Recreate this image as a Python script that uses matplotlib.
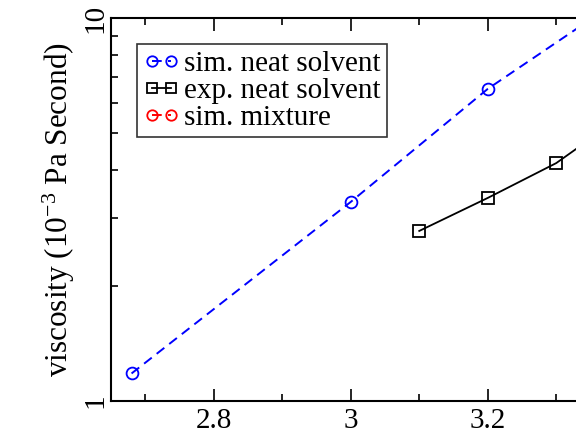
import numpy as np
import matplotlib
matplotlib.use("Agg")
import matplotlib.pyplot as plt
from matplotlib.ticker import MultipleLocator, LogLocator, NullFormatter, FixedLocator

plt.rcParams['font.family'] = ['Liberation Serif', 'DejaVu Serif']
plt.rcParams['mathtext.fontset'] = 'custom'
plt.rcParams['mathtext.rm'] = 'Liberation Serif'
plt.rcParams['mathtext.it'] = 'Liberation Serif:italic'

# data (x = 1000/T style axis, y = viscosity)
sim_neat_x = [2.68, 3.0, 3.2, 3.4]
sim_neat_y = [1.18, 3.31, 6.53, 11.4]

exp_neat_x = [3.1, 3.2, 3.3, 3.4]
exp_neat_y = [2.78, 3.39, 4.18, 5.6]

# mixture points lie outside the visible part of the panel
sim_mix_x = [3.5, 3.6]
sim_mix_y = [4.0, 6.0]

fig = plt.figure(figsize=(5.76, 4.34), dpi=100)
# axes runs past the right edge of the figure (cropped panel)
ax = fig.add_axes([111/576, 33/434, 548/576, 383/434])

ax.plot(sim_neat_x, sim_neat_y, color='blue', ls=(0, (5, 3.2)), lw=1.4, marker='o',
        ms=8.5, mfc='none', mec='blue', mew=1.3, label='sim. neat solvent')
ax.plot(exp_neat_x, exp_neat_y, color='black', ls='-', lw=1.3, marker='s',
        ms=8.5, mfc='none', mec='black', mew=1.3, label='exp. neat solvent')
ax.plot(sim_mix_x, sim_mix_y, color='red', ls=(0, (5, 3.2)), lw=1.4, marker='o',
        ms=8.5, mfc='none', mec='red', mew=1.3, label='sim. mixture')

ax.set_yscale('log')
ax.set_ylim(1, 10)
ax.set_xlim(2.65, 3.45)

ax.xaxis.set_major_locator(MultipleLocator(0.2))
ax.xaxis.set_minor_locator(MultipleLocator(0.1))
ax.xaxis.set_major_formatter(plt.FuncFormatter(lambda v, p: f"{v:g}" if v < 3.35 else ""))
ax.yaxis.set_major_locator(FixedLocator([1, 10]))
ax.yaxis.set_minor_locator(LogLocator(base=10, subs=np.arange(2, 10)))
ax.yaxis.set_minor_formatter(NullFormatter())
ax.yaxis.set_major_formatter(plt.FuncFormatter(lambda v, p: f"{v:g}"))

ax.tick_params(which='both', direction='in', top=True, right=True, width=1.2)
ax.tick_params(which='major', length=9, labelsize=21, pad=5)
ax.tick_params(axis='y', which='major', pad=2)
ax.tick_params(which='minor', length=5)
ax.tick_params(axis='y', labelrotation=90)
for lab in ax.get_yticklabels():
    lab.set_va('center')
for s in ax.spines.values():
    s.set_linewidth(1.5)

ax.set_ylabel('viscosity (10$^{-3}$ Pa Second)', fontsize=22.5, labelpad=4)

leg = ax.legend(loc='upper left', bbox_to_anchor=(137/576, 1 - 44/434),
                bbox_transform=fig.transFigure, borderaxespad=0,
                fontsize=21, numpoints=2, handlelength=1.25, handletextpad=0.15,
                labelspacing=0.02, borderpad=0.22, frameon=True, fancybox=False)
leg.get_frame().set_edgecolor('black')
leg.get_frame().set_linewidth(1.2)
for h in leg.get_lines():
    h.set_markersize(7.5)

fig.savefig('out.png', dpi=100)
